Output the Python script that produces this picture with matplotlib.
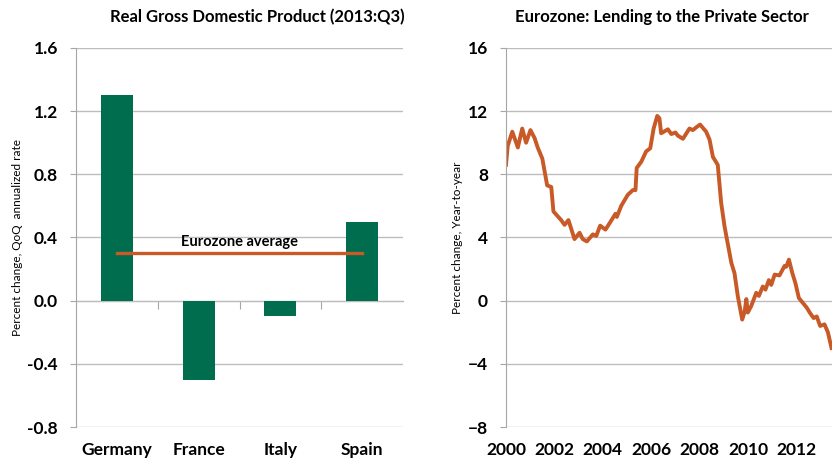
import numpy as np
import matplotlib
matplotlib.use("Agg")
import matplotlib.pyplot as plt

plt.rcParams['font.family'] = ['Lato', 'DejaVu Sans']

# left panel: real GDP, QoQ annualized (2013:Q3)
countries = ["Germany", "France", "Italy", "Spain"]
gdp = [1.3, -0.5, -0.1, 0.5]
ez_avg = 0.3

# right panel: eurozone lending to private sector, y/y % change
years = [2000.0, 2000.07, 2000.26, 2000.49, 2000.67, 2000.83, 2001.01, 2001.18, 2001.31,
         2001.50, 2001.70, 2001.87, 2001.96, 2002.28, 2002.42, 2002.58, 2002.83, 2003.04,
         2003.17, 2003.34, 2003.59, 2003.73, 2003.89, 2004.11, 2004.32, 2004.52, 2004.58,
         2004.76, 2005.03, 2005.24, 2005.35, 2005.40, 2005.59, 2005.79, 2005.96, 2006.10,
         2006.25, 2006.34, 2006.41, 2006.69, 2006.83, 2007.00, 2007.10, 2007.31, 2007.58,
         2007.72, 2007.88, 2008.02, 2008.27, 2008.41, 2008.55, 2008.75, 2008.89, 2009.03,
         2009.31, 2009.44, 2009.58, 2009.76, 2009.86, 2009.93, 2009.99, 2010.13, 2010.34,
         2010.45, 2010.61, 2010.72, 2010.86, 2010.96, 2011.10, 2011.30, 2011.51, 2011.58,
         2011.69, 2011.83, 2011.96, 2012.10, 2012.43, 2012.57, 2012.71, 2012.84, 2012.98,
         2013.16, 2013.30, 2013.45]
lending = [8.6, 9.8, 10.7, 9.7, 10.9, 10.0, 10.8, 10.3, 9.7,
           9.0, 7.3, 7.2, 5.65, 5.1, 4.8, 5.1, 3.9, 4.3,
           3.9, 3.75, 4.2, 4.1, 4.75, 4.5, 5.0, 5.5, 5.3,
           6.0, 6.7, 7.0, 7.0, 8.4, 8.8, 9.45, 9.65, 10.9,
           11.7, 11.55, 10.6, 10.85, 10.55, 10.65, 10.45, 10.25, 10.9,
           10.8, 11.0, 11.15, 10.7, 10.2, 9.1, 8.6, 6.2, 4.7,
           2.4, 1.75, 0.27, -1.2, -0.7, 0.1, -0.75, -0.35, 0.5,
           0.3, 0.9, 0.7, 1.3, 1.0, 1.65, 1.6, 2.2, 2.15,
           2.6, 1.75, 1.1, 0.17, -0.45, -0.8, -1.1, -1.0, -1.6,
           -1.5, -2.0, -3.0]

green = '#006E4E'
orange = '#C85A27'
grid_c = '#BDBDBD'
spine_c = '#A6A6A6'

W, H = 832, 462
fig = plt.figure(figsize=(W / 100, H / 100), dpi=100)

def style(ax):
    ax.grid(axis='y', color=grid_c, lw=1)
    ax.set_axisbelow(True)
    for s in ['top', 'right', 'bottom']:
        ax.spines[s].set_visible(False)
    ax.spines['left'].set_color(spine_c)
    ax.tick_params(axis='y', length=4, color=spine_c, pad=9, labelsize=12.5)
    ax.tick_params(axis='x', length=0, pad=11, labelsize=12.5)
    for lab in ax.get_xticklabels() + ax.get_yticklabels():
        lab.set_fontweight('bold')

# ---- left ----
ax1 = fig.add_axes([76 / W, 35 / H, 327 / W, 379 / H])
x = np.arange(len(countries))
ax1.bar(x, gdp, width=0.39, color=green, zorder=2)
ax1.plot([x[0], x[-1]], [ez_avg, ez_avg], color=orange, lw=2.4, zorder=3)
ax1.text(x.mean(), ez_avg + 0.03, "Eurozone average", ha='center', va='bottom',
         fontsize=10.5, fontweight='bold')
ax1.set_xlim(-0.5, len(countries) - 0.5)
ax1.set_ylim(-0.8, 1.6)
ax1.set_yticks(np.arange(-0.8, 1.61, 0.4))
ax1.set_yticklabels([f"{v:.1f}" for v in np.arange(-0.8, 1.61, 0.4)])
ax1.set_xticks(x)
ax1.set_xticklabels(countries)
style(ax1)
ax1.set_ylabel("Percent change, QoQ  annualized rate", fontsize=8.5)
ax1.yaxis.set_label_coords(-0.162, 0.5)
# zero axis with category separators
sec = ax1.secondary_xaxis(0.8 / 2.4)
sec.set_xticks(x[:-1] + 0.5)
sec.set_xticklabels([])
sec.tick_params(length=6, color=spine_c)
sec.spines['bottom'].set_color(spine_c)

# ---- right ----
ax2 = fig.add_axes([506 / W, 35 / H, 326 / W, 379 / H])
ax2.plot(years, lending, color=orange, lw=2.8, solid_joinstyle='round')
ax2.set_xlim(2000, 2013.47)
ax2.set_ylim(-8, 16)
ax2.set_yticks(range(-8, 17, 4))
ax2.set_xticks(range(2000, 2013, 2))
style(ax2)
ax2.set_ylabel("Percent change, Year-to-year", fontsize=8.5)
ax2.yaxis.set_label_coords(-0.132, 0.5)

fig.text(257 / W, 1 - 17 / H, "Real Gross Domestic Product (2013:Q3)", ha='center',
         va='center', fontsize=12, fontweight='bold')
fig.text(662 / W, 1 - 17 / H, "Eurozone: Lending to the Private Sector", ha='center',
         va='center', fontsize=12, fontweight='bold')

fig.savefig("out.png", dpi=100)
